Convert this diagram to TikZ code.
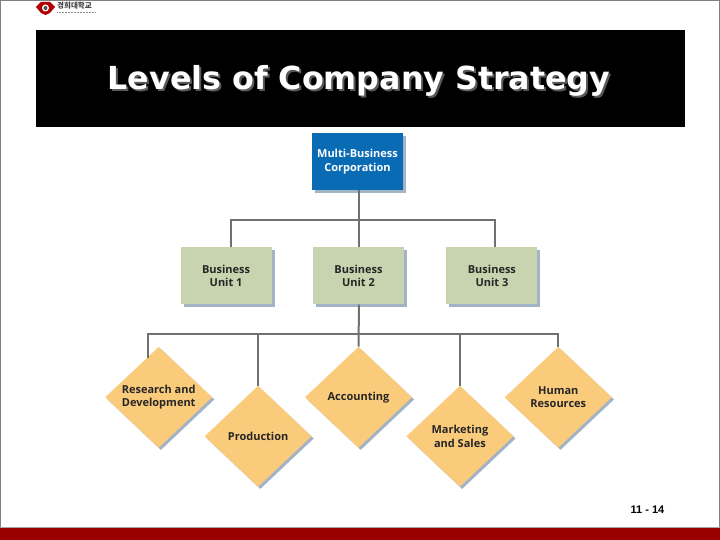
\documentclass[tikz,border=0pt]{standalone}
\usepackage{fontspec}
\setmainfont{Open Sans}
\newfontfamily\titlefont{DejaVu Sans}
\newfontfamily\pagefont{Liberation Sans}
\newfontfamily\krfont{Noto Sans CJK KR}
\usepackage{xcolor}
\usetikzlibrary{positioning, shapes.geometric, shadows}
\definecolor{corpblue}{HTML}{0A6BB5}
\definecolor{unitgreen}{HTML}{C8D4B0}
\definecolor{funcorange}{HTML}{FBCB7C}
\definecolor{shadeblue}{HTML}{A3B3C6}
\definecolor{linkgray}{HTML}{707070}
\definecolor{barred}{HTML}{990000}

\begin{document}
\begin{tikzpicture}[x=1pt, y=1pt, node distance=57pt and 42pt,
  every node/.style={align=center, inner sep=0pt, font=\fontsize{11}{13.5}\selectfont\bfseries},
  corpbox/.style={minimum width=91pt, minimum height=57pt, fill=corpblue, text=white,
    general shadow={fill=shadeblue, shadow xshift=3pt, shadow yshift=-3pt}},
  unitbox/.style={minimum width=91pt, minimum height=57pt, fill=unitgreen, text=black!85,
    general shadow={fill=shadeblue, shadow xshift=3pt, shadow yshift=-3pt}},
  funcdiamond/.style={diamond, minimum width=107pt, minimum height=101pt, aspect=1.06, fill=funcorange, text=black!85,
    general shadow={fill=shadeblue, shadow xshift=2.2pt, shadow yshift=-2.2pt}},
  titletext/.style={font=\titlefont\fontsize{31.7}{36}\selectfont\bfseries},
  link/.style={draw=linkgray, line width=2pt}]
\useasboundingbox (0,0) rectangle (720,540);
% page
\fill[white] (0,0) rectangle (720,540);
\draw[gray, line width=2pt] (0,13) -- (0,540) -- (720,540) -- (720,13);
\fill[barred] (0,0) rectangle (720,13);
\draw[black!35, line width=.6pt] (0,13) -- (720,13);
\node[fill=black, minimum width=649pt, minimum height=97pt] (banner) at (360.5,461.5) {};
\node[text=black!65, titletext] (titleshade) at (361,457) {Levels of Company Strategy};
\node[text=white, titletext] (title) at (359,459) {Levels of Company Strategy};
\node[font=\pagefont\fontsize{11}{13}\selectfont\bfseries] (pagenum) at (647.5,30) {11 - 14};
% logo
\fill[red!70!black] (36,533) -- (41,538) -- (50,538) -- (55,533) -- (50,527) -- (45.5,525) -- (41,527) -- cycle;
\fill[white] (45.5,532) circle (3.5);
\fill[black!70] (45.5,532) circle (2);
\node[font=\krfont\fontsize{7.5}{8}\bfseries\selectfont, text=black!75, anchor=west] (logotext) at (57,534) {경희대학교};
\draw[black!45, line width=1.5pt, dash pattern=on 1pt off .5pt] (57,527.5) -- (95,527.5);
% boxes
\node[corpbox] (corp) at (357.5,378.5) {Multi-Business\\Corporation};
\node[unitbox, below=57pt of corp, xshift=1pt] (unit2) {Business\\Unit 2};
\node[unitbox, left=41pt of unit2] (unit1) {Business\\Unit 1};
\node[unitbox, right=42pt of unit2] (unit3) {Business\\Unit 3};
\node[funcdiamond, below=42pt of unit2] (acct) {Accounting};
\node[funcdiamond, left=-7pt of acct, yshift=-39pt] (prod) {Production};
\node[funcdiamond, left=-8pt of prod, yshift=39pt] (research) {Research and\\Development};
\node[funcdiamond, right=-6pt of acct, yshift=-39pt] (market) {Marketing\\and Sales};
\node[funcdiamond, right=-9pt of market, yshift=39pt] (human) {Human\\Resources};
% connectors
\coordinate (busa) at (359,320);
\coordinate (busb) at (359,206);
\coordinate (dropa) at ([xshift=4.5pt]unit1.north);
\coordinate (dropc) at ([xshift=3.5pt]unit3.north);
\coordinate (dropr) at ([xshift=-11pt,yshift=-11pt]research.north);
\draw[link] (corp.south -| busa) -- (unit2.north -| busa);
\draw[link] (dropa) |- (busa) -| (dropc);
\draw[link] (unit2.south -| busa) -- (acct.north);
\draw[link] (dropr) |- (busb) -| (human.north);
\draw[link] (prod.north) -- (prod.north |- busb);
\draw[link] (market.north) -- (market.north |- busb);
\end{tikzpicture}
\end{document}
